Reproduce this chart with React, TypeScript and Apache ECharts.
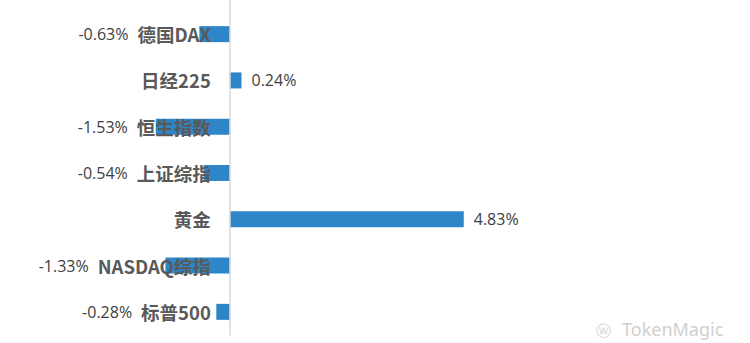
import React, { useEffect, useRef } from "react";
import * as echarts from "echarts";

const categories = ["德国DAX", "日经225", "恒生指数", "上证综指", "黄金", "NASDAQ综指", "标普500"];
const values = [-0.63, 0.24, -1.53, -0.54, 4.83, -1.33, -0.28];
const xMin = -2;
const xMax = 5;

export default function App() {
  const ref = useRef<HTMLDivElement>(null);
  useEffect(() => {
    document.body.style.margin = "0";
    const chart = echarts.init(ref.current!, null, { renderer: "svg" });
    const fmt = (v: number) => v.toFixed(2) + "%";
    const gridLeft = 133;
    const gridRight = 278;
    const plotWidth = 750 - gridLeft - gridRight;
    const zeroOffset = -((0 - xMin) / (xMax - xMin)) * plotWidth;
    chart.setOption({
      animation: false,
      backgroundColor: "#ffffff",
      grid: { left: gridLeft, right: gridRight, top: 11, bottom: 8, containLabel: false, outerBoundsMode: "none" },
      xAxis: {
        type: "value",
        min: xMin,
        max: xMax,
        show: false,
        splitLine: { show: false },
      },
      yAxis: {
        type: "category",
        data: categories,
        inverse: true,
        z: 5,
        offset: zeroOffset,
        axisLine: { show: true, onZero: false, lineStyle: { color: "#d9d9d9", width: 1.5 } },
        axisTick: { show: false },
        axisLabel: {
          margin: 19,
          formatter: (val: string, idx: number) => {
            const v = values[idx];
            return v < 0 ? `{v|${fmt(v)}}{g|}{c|${val}}` : `{c|${val}}`;
          },
          rich: {
            v: { fontFamily: "Open Sans, Noto Sans, sans-serif", fontSize: 16, color: "#404040" },
            g: { width: 9 },
            c: { fontFamily: "Noto Sans CJK SC, sans-serif", fontSize: 18.5, fontWeight: "bold", color: "#595959" },
          },
        },
      },
      series: [
        {
          type: "bar",
          data: values,
          barWidth: 16,
          itemStyle: { color: "#2E86C8" },
          label: {
            show: true,
            position: "right",
            distance: 10,
            fontFamily: "Open Sans, Noto Sans, sans-serif",
            fontSize: 16,
            color: "#404040",
            formatter: (p: any) => (p.value > 0 ? fmt(p.value) : ""),
          },
        },
      ],
      graphic: [
        { type: "line", shape: { x1: 230, y1: 0, x2: 230, y2: 11 }, style: { stroke: "#d9d9d9", lineWidth: 1.5 } },
        {
          type: "text",
          x: 622,
          y: 320,
          style: { text: "TokenMagic", fontFamily: "Noto Sans, sans-serif", fontSize: 18, fill: "#cfcfcf" },
        },
        {
          type: "text",
          x: 596,
          y: 322,
          style: { text: "ⓦ", fontFamily: "Noto Sans, sans-serif", fontSize: 15, fill: "#d5d5d5" },
        },
      ],
    });
    return () => chart.dispose();
  }, []);
  return <div ref={ref} style={{ width: 750, height: 343, position: "absolute", left: 0, top: 0 }} />;
}
